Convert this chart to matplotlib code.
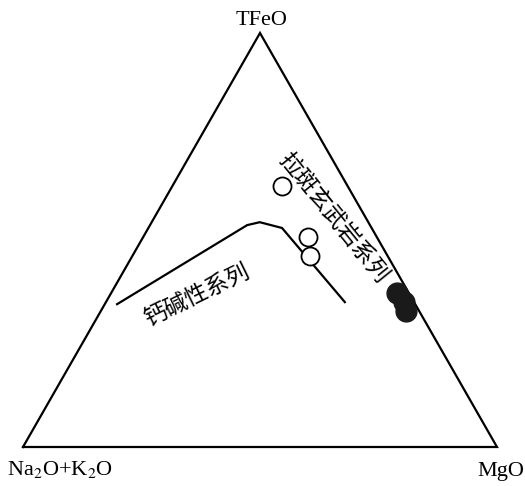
import numpy as np
import matplotlib.pyplot as plt

plt.rcParams['font.family'] = ['Liberation Serif', 'DejaVu Serif']
plt.rcParams['mathtext.fontset'] = 'stix'

# AFM ternary data (percent): F = TFeO, A = Na2O+K2O, M = MgO
open_F = [63.0, 50.7, 46.1]
open_M = [23.1, 34.8, 37.5]

filled_F = [37.2, 35.0, 32.9]
filled_M = [60.3, 62.9, 64.4]

# calc-alkaline / tholeiitic dividing line
line_F = [34.5, 53.6, 54.3, 52.9, 35.0]
line_M = [2.6, 20.5, 22.8, 28.2, 50.4]

corner_labels = ["TFeO", "Na$_2$O+K$_2$O", "MgO"]


def to_xy(F, M):
    F = np.asarray(F) / 100.0
    M = np.asarray(M) / 100.0
    return M + F / 2.0, F


fig = plt.figure(figsize=(5.25, 4.86), dpi=100)
ax = fig.add_axes([0, 0, 1, 1])
ax.set_xlim(-23 / 474, (525 - 23) / 474)
ax.set_ylim((447 - 486) / 414, 447 / 414)
ax.axis("off")

# triangle frame
tx, ty = to_xy([0, 100, 0, 0], [0, 0, 100, 0])
ax.plot(tx, ty, color="black", lw=1.6, solid_joinstyle="miter")

lx, ly = to_xy(line_F, line_M)
ax.plot(lx, ly, color="black", lw=1.6)

ox, oy = to_xy(open_F, open_M)
ax.plot(ox, oy, "o", ms=13, mfc="white", mec="black", mew=1.3, ls="none")

fx, fy = to_xy(filled_F, filled_M)
ax.plot(fx, fy, "o", ms=15, mfc="#1a1a1a", mec="#1a1a1a", ls="none")

ax.text(0.504, 1.019, corner_labels[0], ha="center", va="baseline", fontsize=16)
ax.text(0.078, -0.068, corner_labels[1], ha="center", va="baseline", fontsize=16)
ax.text(1.008, -0.070, corner_labels[2], ha="center", va="baseline", fontsize=16)

cjk = ['Noto Sans CJK SC', 'DejaVu Sans']
ax.text(0.367, 0.367, "钙碱性系列", rotation=26, ha="center", va="center",
        fontsize=16.5, family=cjk, fontweight="light")
ax.text(0.654, 0.553, "拉斑玄武岩系列", rotation=-51, ha="center", va="center",
        fontsize=16.5, family=cjk, fontweight="light")

fig.savefig("out.png", dpi=100)
